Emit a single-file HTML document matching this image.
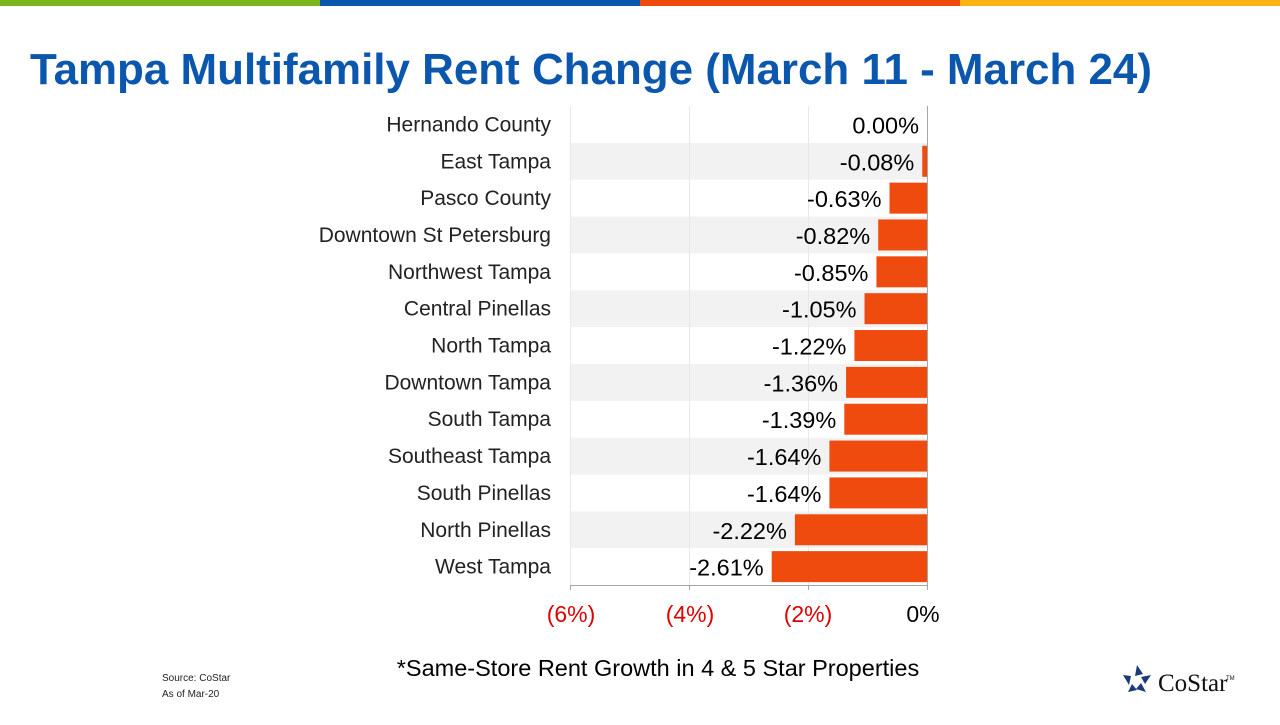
<!DOCTYPE html>
<html><head><meta charset="utf-8"><style>
body{margin:0;width:1280px;height:720px;background:#fff;overflow:hidden;font-family:"Liberation Sans",sans-serif}
</style></head><body>
<svg width="1280" height="720" xmlns="http://www.w3.org/2000/svg" font-family="Liberation Sans, sans-serif">
<rect x="0" y="0" width="320" height="6" fill="#7ab51d"/>
<rect x="320" y="0" width="320" height="6" fill="#0c57ae"/>
<rect x="640" y="0" width="320" height="6" fill="#ef4b0f"/>
<rect x="960" y="0" width="320" height="6" fill="#fbb313"/>
<text x="30" y="84" font-size="44" font-weight="bold" fill="#0c57ae" textLength="1122" lengthAdjust="spacingAndGlyphs">Tampa Multifamily Rent Change (March 11 - March 24)</text>
<g fill="#f2f2f2">
<rect x="570" y="142.9" width="357" height="36.85"/>
<rect x="570" y="216.6" width="357" height="36.85"/>
<rect x="570" y="290.3" width="357" height="36.85"/>
<rect x="570" y="364" width="357" height="36.85"/>
<rect x="570" y="437.7" width="357" height="36.85"/>
<rect x="570" y="511.4" width="357" height="36.85"/>
</g>
<g stroke="#e8e8e8" stroke-width="1">
<line x1="570.5" y1="106" x2="570.5" y2="585"/>
<line x1="689.5" y1="106" x2="689.5" y2="585"/>
<line x1="808.5" y1="106" x2="808.5" y2="585"/>
</g>
<g fill="#ef4b0f" id="bars"></g>
<g stroke="#a6a6a6" stroke-width="1">
<line x1="927.5" y1="106" x2="927.5" y2="590"/>
<line x1="570" y1="585.5" x2="927" y2="585.5"/>
<line x1="570.5" y1="585" x2="570.5" y2="590"/>
<line x1="689.5" y1="585" x2="689.5" y2="590"/>
<line x1="808.5" y1="585" x2="808.5" y2="590"/>
</g>
<g font-size="23" text-anchor="middle">
<text x="571" y="622" fill="#e00000">(6%)</text>
<text x="690" y="622" fill="#e00000">(4%)</text>
<text x="808" y="622" fill="#e00000">(2%)</text>
<text x="923" y="622" fill="#000">0%</text>
</g>
<g id="labels" font-size="21" fill="#222"></g>
<text x="658" y="676" font-size="23.5" text-anchor="middle" fill="#000">*Same-Store Rent Growth in 4 &amp; 5 Star Properties</text>
<text x="162" y="681" font-size="10" fill="#222">Source: CoStar</text>
<text x="162" y="697" font-size="10" fill="#222">As of Mar-20</text>
<g transform="translate(1137,680)" fill="#1b3a7a">
<polygon points="0,-15 6,-6 -2,-4"/>
<polygon points="14,-5 8,4 4,-3"/>
<polygon points="9,12 -1,9 4,3"/>
<polygon points="-9,12 -5,4 0,10"/>
<polygon points="-14,-5 -6,-4 -8,5"/>
</g>
<text x="1158" y="691" font-size="25" font-family="Liberation Serif, serif" fill="#111">CoStar</text>
<text x="1226" y="680" font-size="6" fill="#111">TM</text>
</svg>
<script>
var d=[["Hernando County",0],["East Tampa",-0.08],["Pasco County",-0.63],["Downtown St Petersburg",-0.82],["Northwest Tampa",-0.85],["Central Pinellas",-1.05],["North Tampa",-1.22],["Downtown Tampa",-1.36],["South Tampa",-1.39],["Southeast Tampa",-1.64],["South Pinellas",-1.64],["North Pinellas",-2.22],["West Tampa",-2.61]];
var ns="http://www.w3.org/2000/svg",b=document.getElementById("bars"),l=document.getElementById("labels");
d.forEach(function(r,i){var c=106+36.85*(i+0.5);var w=-r[1]*59.5;
if(w>0){var e=document.createElementNS(ns,"rect");e.setAttribute("x",927-w);e.setAttribute("y",c-15.5);e.setAttribute("width",w);e.setAttribute("height",31);b.appendChild(e);}
var t=document.createElementNS(ns,"text");t.setAttribute("x",551);t.setAttribute("y",c+7);t.setAttribute("text-anchor","end");t.textContent=r[0];l.appendChild(t);
var v=document.createElementNS(ns,"text");v.setAttribute("x",Math.min(927-w,927)-8);v.setAttribute("y",c+9);v.setAttribute("text-anchor","end");v.setAttribute("font-size","23.5");v.setAttribute("fill","#000");v.textContent=r[1].toFixed(2)+"%";l.appendChild(v);});
</script>
</body></html>
